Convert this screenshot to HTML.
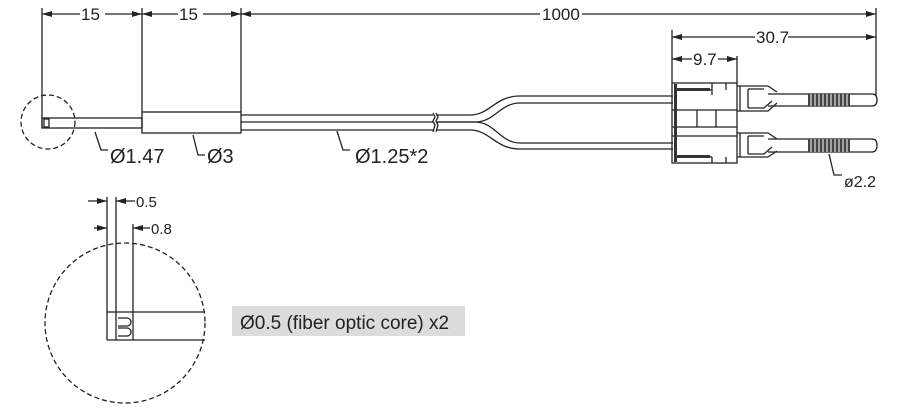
<!DOCTYPE html>
<html><head><meta charset="utf-8"><style>
html,body{margin:0;padding:0;background:#fff;}
svg{display:block;font-family:"Liberation Sans",sans-serif;}
</style></head><body>
<svg width="900" height="409" viewBox="0 0 900 409" xmlns="http://www.w3.org/2000/svg">
<defs>
<marker id="a" viewBox="0 0 10 6" refX="10" refY="3" markerWidth="10" markerHeight="6" orient="auto-start-reverse" markerUnits="userSpaceOnUse"><path d="M0,0L10,3L0,6z" fill="#222"/></marker>
</defs>
<g stroke="#222" stroke-width="1.3" fill="none">
<line x1="42" y1="8" x2="42" y2="128"/>
<line x1="142" y1="8" x2="142" y2="112"/>
<line x1="241" y1="8" x2="241" y2="112"/>
<line x1="876" y1="8" x2="876" y2="96"/>
<line x1="42" y1="14" x2="80" y2="14" marker-start="url(#a)"/>
<line x1="105" y1="14" x2="142" y2="14" marker-end="url(#a)"/>
<line x1="142" y1="14" x2="178" y2="14" marker-start="url(#a)"/>
<line x1="203" y1="14" x2="241" y2="14" marker-end="url(#a)"/>
<line x1="241" y1="14" x2="540" y2="14" marker-start="url(#a)"/>
<line x1="582" y1="14" x2="876" y2="14" marker-end="url(#a)"/>
<rect x="42" y="118" width="100" height="10"/>
<rect x="44" y="119" width="5" height="8"/>
<rect x="142" y="112" width="99" height="21"/>
<circle cx="48" cy="122" r="27" stroke-dasharray="5,3"/>
<path d="M241,115H433M241,122H433M241,130H433"/>
<path d="M436,115H470C490,115 495,96 520,96H673"/>
<path d="M436,122H475C495,122 500,103 520,103H673"/>
<path d="M436,122H475C495,122 500,143 520,143H673"/>
<path d="M436,130H470C490,130 495,149 520,149H673"/>
<path d="M433,113l2,4l-2,4l2,4l-2,7M436,113l2,4l-2,4l2,4l-2,7"/>
<path d="M95,132L101,150H108"/>
<path d="M193,135L198,155H205"/>
<path d="M337,131L343,150H350"/>
<path d="M829,154L834,175H842"/>
<line x1="672" y1="30" x2="672" y2="83"/>
<line x1="737" y1="56" x2="737" y2="83"/>
<line x1="672" y1="37" x2="755" y2="37" marker-start="url(#a)"/>
<line x1="788" y1="37" x2="876" y2="37" marker-end="url(#a)"/>
<line x1="672" y1="59" x2="692" y2="59" marker-start="url(#a)"/>
<line x1="718" y1="59" x2="737" y2="59" marker-end="url(#a)"/>
<rect x="672" y="83" width="65" height="80"/>
<path d="M672,110H737M672,127H737M672,136H737M674,90H712M674,157H712M697,110V127M716,110V127M712,83V95M726,83V90M712,157V163M726,163V157"/>
<!-- upper clip -->
<path d="M737,86H768L777,92M737,111H768L777,103M740,86V111M748,89V108M748,89H764M748,108H764L772,101"/>
<!-- lower clip -->
<path d="M737,133H768L777,139M737,157H768L777,151M740,133V157M748,136V154M748,136H764M748,154H764L772,147"/>
<path d="M768,94H872Q877,94 877,100Q877,106 872,106H768"/>
<path d="M768,139H872Q877,139 877,145Q877,152 872,152H768"/>
<circle cx="125" cy="323" r="80" stroke-dasharray="5,3"/>
<path d="M107,197V340M116,197V340M133,224V340M107,312H205M107,340H205"/>
<path d="M118,318h9a4,4 0 0 1 0,8h-9M118,328h9a4,4 0 0 1 0,8h-9"/>
<line x1="88" y1="201" x2="107" y2="201" marker-end="url(#a)"/>
<line x1="135" y1="201" x2="116" y2="201" marker-end="url(#a)"/>
<line x1="94" y1="228" x2="107" y2="228" marker-end="url(#a)"/>
<line x1="150" y1="228" x2="133" y2="228" marker-end="url(#a)"/>
</g>
<g fill="#333">
<rect x="674" y="84" width="3" height="78"/>
<rect x="674" y="88" width="36" height="3"/>
<rect x="674" y="155" width="36" height="3"/>
<rect x="808" y="94" width="42" height="12" fill="#444"/>
<rect x="808" y="139" width="42" height="13" fill="#444"/>
</g>
<g stroke="#fff" stroke-width="1">
<path d="M811,94v12M815,94v12M819,94v12M823,94v12M827,94v12M831,94v12M835,94v12M839,94v12M843,94v12M847,94v12"/>
<path d="M811,139v13M815,139v13M819,139v13M823,139v13M827,139v13M831,139v13M835,139v13M839,139v13M843,139v13M847,139v13"/>
</g>
<rect x="232" y="306" width="233" height="30" fill="#dcdcdc"/>
<g fill="#222" font-size="17">
<text x="81" y="20">15</text>
<text x="179" y="20">15</text>
<text x="542" y="20">1000</text>
<text x="756" y="43">30.7</text>
<text x="693" y="65">9.7</text>
<text x="110" y="163" font-size="20">Ø1.47</text>
<text x="207" y="163" font-size="20">Ø3</text>
<text x="355" y="163" font-size="20">Ø1.25*2</text>
<text x="844" y="187" font-size="16">ø2.2</text>
<text x="136" y="207" font-size="15">0.5</text>
<text x="151" y="234" font-size="15">0.8</text>
<text x="240" y="329" font-size="19">Ø0.5 (fiber optic core) x2</text>
</g>
</svg>
</body></html>
